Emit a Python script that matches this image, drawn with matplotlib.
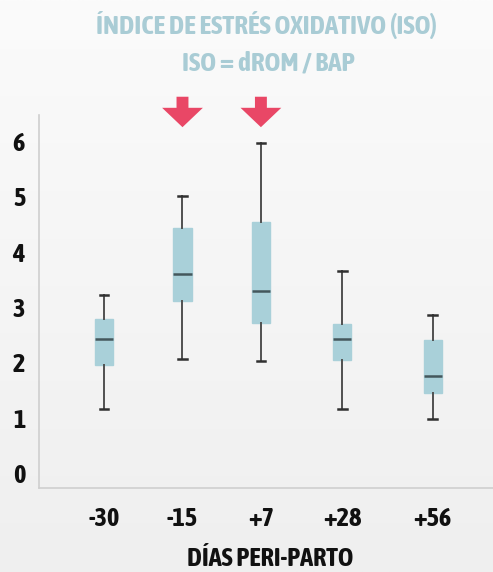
import numpy as np
import matplotlib
matplotlib.use("Agg")
import matplotlib.pyplot as plt
from matplotlib.patches import Polygon
from matplotlib.colors import LinearSegmentedColormap

plt.rcParams['font.family'] = ['Asap Condensed', 'Barlow Condensed', 'Archivo Narrow', 'DejaVu Sans']

categories = ["-30", "-15", "+7", "+28", "+56"]
whisker_low = [1.16, 2.07, 2.03, 1.16, 0.98]
q1 = [1.96, 3.11, 2.72, 2.05, 1.44]
median = [2.42, 3.60, 3.29, 2.42, 1.76]
q3 = [2.78, 4.42, 4.54, 2.70, 2.40]
whisker_high = [3.22, 5.01, 5.97, 3.65, 2.86]
highlighted = ["-15", "+7"]

title1 = "ÍNDICE DE ESTRÉS OXIDATIVO (ISO)"
title2 = "ISO = dROM / BAP"
xlabel = "DÍAS PERI-PARTO"
yticks = [0, 1, 2, 3, 4, 5, 6]

positions = [0, 1.0, 2.0, 3.04, 4.19]

fig = plt.figure(figsize=(4.93, 5.72), dpi=100)

# background gradient
bg = fig.add_axes([0, 0, 1, 1], zorder=-10)
grad = np.linspace(0, 1, 256).reshape(-1, 1)
cm = LinearSegmentedColormap.from_list("bg", ["#fbfbfb", "#efefef"])
bg.imshow(grad, aspect='auto', cmap=cm, extent=[0, 1, 0, 1], origin='upper')
bg.axis('off')

ax = fig.add_axes([39/493, 1-488/572, 1-39/493, (488-115)/572])
ax.set_facecolor('none')

stats = []
for i, c in enumerate(categories):
    stats.append(dict(label=c, whislo=whisker_low[i], q1=q1[i], med=median[i],
                      q3=q3[i], whishi=whisker_high[i], fliers=[]))

ax.bxp(stats, positions=positions, widths=0.23, patch_artist=True,
       showfliers=False,
       boxprops=dict(facecolor='#a9d0d9', edgecolor='#a9d0d9', linewidth=1),
       medianprops=dict(color='#44575c', linewidth=1.8),
       whiskerprops=dict(color='#505050', linewidth=1.4),
       capprops=dict(color='#303030', linewidth=1.8),
       capwidths=0.11)

ax.set_xlim(-0.83, 4.96)
ax.set_ylim(-0.27, 6.47)
ax.set_yticks(yticks)
ax.set_xticks(positions)
ax.set_xticklabels(categories)
ax.tick_params(length=0, labelsize=19)
ax.tick_params(axis='y', pad=10)
ax.tick_params(axis='x', pad=13)
for lbl in ax.get_xticklabels() + ax.get_yticklabels():
    lbl.set_fontweight('bold')
    lbl.set_color('#111111')
for s in ['top', 'right']:
    ax.spines[s].set_visible(False)
for s in ['left', 'bottom']:
    ax.spines[s].set_color('#cfcfcf')
    ax.spines[s].set_linewidth(1.2)

fig.text(270/493, 1-558/572, xlabel, ha='center', va='center', fontsize=19,
         fontweight='bold', color='#111111')

# arrows
for c in highlighted:
    x = positions[categories.index(c)]
    sw, hw = 0.076, 0.26
    ytop, yhead, ytip = 6.80, 6.60, 6.25
    pts = [(x - sw, ytop), (x + sw, ytop), (x + sw, yhead), (x + hw, yhead),
           (x, ytip), (x - hw, yhead), (x - sw, yhead)]
    ax.add_patch(Polygon(pts, closed=True, facecolor='#e94766', edgecolor='none',
                         clip_on=False, zorder=5))

fig.text(267/493, 1-25/572, title1, ha='center', va='center', fontsize=19.5,
         fontweight='bold', color='#a9ccd5')
fig.text(268/493, 1-63/572, title2, ha='center', va='center', fontsize=19.5,
         fontweight='bold', color='#a9ccd5')

fig.savefig("out.png", dpi=100)
